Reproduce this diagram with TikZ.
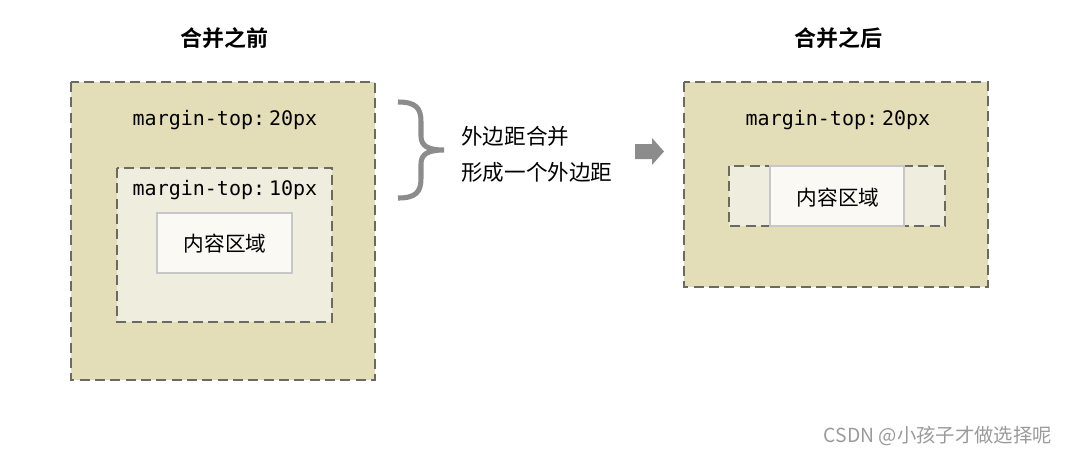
\documentclass[tikz,border=0pt]{standalone}
\usepackage{fontspec}
\newfontfamily\cjk{Noto Sans CJK SC}
\newfontfamily\cjkb{Noto Sans CJK SC Bold}
\newfontfamily\monof{DejaVu Sans Mono}
\definecolor{outerfill}{HTML}{E3DEB8}
\definecolor{innerfill}{HTML}{EFEDDD}
\definecolor{contentfill}{HTML}{FAF9F3}
\definecolor{dashcol}{HTML}{6B6A60}
\definecolor{bracecol}{HTML}{8C8C8C}
\definecolor{wmcol}{HTML}{9A9A9A}
\tikzset{
  outerbox/.style={fill=outerfill, draw=dashcol, line width=1.5pt, dash pattern=on 7.5pt off 4pt},
  innerbox/.style={fill=innerfill, draw=dashcol, line width=1.5pt, dash pattern=on 7.5pt off 4pt},
  contentbox/.style={fill=contentfill, draw=black!22, line width=0.8pt},
  margintext/.style={font=\monof\fontsize{15}{18}\selectfont, inner sep=0pt},
  cntext/.style={font=\cjk\fontsize{15.5}{18}\selectfont, inner sep=0pt},
  sidetext/.style={font=\cjk\fontsize{16.2}{19}\selectfont, inner sep=0pt},
  titletext/.style={font=\cjkb\fontsize{16.5}{19}\selectfont, inner sep=0pt},
}
\begin{document}
\begin{tikzpicture}[x=0.75pt,y=-0.75pt]
\useasboundingbox (0,0) rectangle (1067,455);
% left
\node[titletext] (t1) at (224,38) {合并之前};
\draw[outerbox] (71,82) rectangle (375,380);
\node[margintext] (m1) at (225,120) {margin-top:\kern0.2em20px};
\draw[innerbox] (117,168) rectangle (332,322);
\node[margintext] (m2) at (225,190) {margin-top:\kern0.2em10px};
\draw[contentbox] (157,213) rectangle (292,273);
\node[cntext] (c1) at (225,244) {内容区域};
% brace
\draw[bracecol, line width=3.8pt, line cap=butt]
  (398,102) .. controls (416,102) and (421,108) .. (421,122) -- (421,136)
  .. controls (421,146) and (428,150) .. (444,150)
  .. controls (428,150) and (421,154) .. (421,164) -- (421,178)
  .. controls (421,192) and (416,198) .. (398,198);
\node[sidetext, anchor=west] (l1) at (461,136) {外边距合并};
\node[sidetext, anchor=west] (l2) at (461,172) {形成一个外边距};
% arrow
\fill[bracecol] (635,144) -- (652,144) -- (652,138) -- (664,151.5) -- (652,165) -- (652,159) -- (635,159) -- cycle;
% right
\node[titletext] (t2) at (838,38) {合并之后};
\draw[outerbox] (684,82) rectangle (988,287);
\node[margintext] (m3) at (838,120) {margin-top:\kern0.2em20px};
\draw[innerbox] (729,166) rectangle (945,226);
\draw[contentbox] (770,166) rectangle (904,226);
\node[cntext] (c2) at (838,198) {内容区域};
% watermark
\node[font=\cjk\fontsize{14.5}{17}\selectfont, text=wmcol, anchor=east, inner sep=0pt] (wm) at (1052,436) {CSDN @小孩子才做选择呢};
\end{tikzpicture}
\end{document}
